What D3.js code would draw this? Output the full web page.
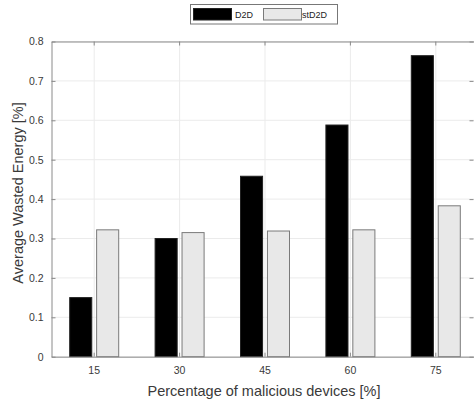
<!DOCTYPE html>
<html><head><meta charset="utf-8">
<script src="https://cdn.jsdelivr.net/npm/d3@7"></script>
<style>body{margin:0;background:#fff}svg{display:block;font-family:"Liberation Sans",Arial,sans-serif}</style>
</head><body><svg id="c" width="474" height="404"></svg>
<script>
const categories = ["15","30","45","60","75"];
const seriesNames = ["D2D","stD2D"];
const d2d = [0.15, 0.30, 0.458, 0.588, 0.764];
const stD2D = [0.322, 0.315, 0.319, 0.322, 0.383];
const yTicks = [0,0.1,0.2,0.3,0.4,0.5,0.6,0.7,0.8];

const svg = d3.select("#c");
const L=51.5, R=478.5, T=41.5, B=356.7;
const x = d3.scaleBand().domain(categories).range([L,R]).paddingInner(0).paddingOuter(0);
const y = d3.scaleLinear().domain([0,0.8]).range([B,T]);
const sub = d3.scaleBand().domain(seriesNames).range([-24.5,24.5]).paddingInner(0.18);
const colors = {"D2D":"#000000","stD2D":"#e8e8e8"};
const strokes = {"D2D":"#222","stD2D":"#7a7a7a"};

// grid
const g = svg.append("g");
g.selectAll(".gy").data(yTicks).join("line")
 .attr("x1",L).attr("x2",R).attr("y1",d=>y(d)).attr("y2",d=>y(d))
 .attr("stroke","#ebebeb").attr("stroke-width",1);
g.selectAll(".gx").data(categories).join("line")
 .attr("x1",d=>x(d)+x.bandwidth()/2).attr("x2",d=>x(d)+x.bandwidth()/2)
 .attr("y1",T).attr("y2",B).attr("stroke","#ebebeb").attr("stroke-width",1);

// bars
const data = categories.map((c,i)=>({c, vals:[{s:"D2D",v:d2d[i]},{s:"stD2D",v:stD2D[i]}]}));
const grp = svg.selectAll(".grp").data(data).join("g")
 .attr("transform",d=>`translate(${x(d.c)+x.bandwidth()/2},0)`);
grp.selectAll("rect").data(d=>d.vals).join("rect")
 .attr("x",d=>sub(d.s)).attr("width",sub.bandwidth())
 .attr("y",d=>y(d.v)).attr("height",d=>B-y(d.v))
 .attr("fill",d=>colors[d.s]).attr("stroke",d=>strokes[d.s]).attr("stroke-width",1);

// axes
const axCol="#8a8a8a";
const yAxis = svg.append("g").attr("transform",`translate(${L},0)`)
 .call(d3.axisLeft(y).tickValues(yTicks).tickFormat(d=>d===0?"0":d3.format(".1f")(d)).tickSizeInner(-4).tickSizeOuter(0).tickPadding(8));
const xAxis = svg.append("g").attr("transform",`translate(0,${B})`)
 .call(d3.axisBottom(x).tickSizeInner(-4).tickSizeOuter(0).tickPadding(10));
const topAxis = svg.append("g").attr("transform",`translate(0,${T})`)
 .call(d3.axisTop(x).tickSizeInner(-4).tickSizeOuter(0).tickFormat(""));
const rightAxis = svg.append("g").attr("transform",`translate(${R-5},0)`)
 .call(d3.axisRight(y).tickValues(yTicks).tickSizeInner(-4).tickSizeOuter(0).tickFormat(""));
[yAxis,xAxis,topAxis,rightAxis].forEach(a=>{
  a.selectAll("path").attr("stroke",axCol);
  a.selectAll("line").attr("stroke",axCol);
  a.selectAll("text").attr("fill","#3a3a3a").attr("font-size",10.5);
});
rightAxis.select("path").remove();

// labels
svg.append("text").attr("x",264).attr("y",396).attr("text-anchor","middle")
 .attr("font-size",14.5).attr("fill","#3a3a3a").text("Percentage of malicious devices [%]");
svg.append("text").attr("transform",`translate(23,193) rotate(-90)`).attr("text-anchor","middle")
 .attr("font-size",14.5).attr("fill","#3a3a3a").text("Average Wasted Energy [%]");

// legend
const lg = svg.append("g");
lg.append("rect").attr("x",190.5).attr("y",4.5).attr("width",147).attr("height",19.5)
 .attr("fill","#fff").attr("stroke","#777");
const items=[{s:"D2D",x:193.5,tx:235},{s:"stD2D",x:263.5,tx:302}];
items.forEach(it=>{
  lg.append("rect").attr("x",it.x).attr("y",8.5).attr("width",38).attr("height",11.5)
   .attr("fill",colors[it.s]).attr("stroke",strokes[it.s]);
  lg.append("text").attr("x",it.tx).attr("y",18).attr("font-size",9).attr("fill","#222").text(it.s);
});
</script></body></html>
